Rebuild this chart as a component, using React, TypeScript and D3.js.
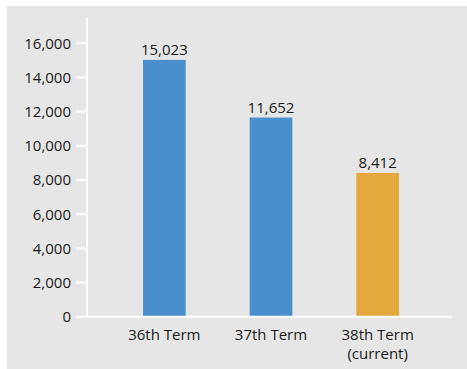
import React from "react";
import * as d3 from "d3";

const categories = ["36th Term", "37th Term", "38th Term|(current)"];
const values = [15023, 11652, 8412];
const barColors = ["#4a8fcd", "#4a8fcd", "#e3a93c"];
const yTicks = [0, 2000, 4000, 6000, 8000, 10000, 12000, 14000, 16000];

export default function App() {
  const W = 467, H = 369;
  const y = d3.scaleLinear().domain([0, 16000]).range([316.8, 43.2]);
  const x = d3.scaleBand<string>().domain(categories).range([111, 431]).paddingInner(0.6).paddingOuter(0.3);
  const fmt = d3.format(",");
  const font = "'Open Sans', sans-serif";
  return (
    <svg width={W} height={H} style={{ position: "absolute", left: 0, top: 0, display: "block" }} fontFamily={font}>
      <rect x={7} y={6} width={W - 7} height={H - 6} fill="#e6e6e6" />
      {categories.map((c, i) => (
        <g key={c}>
          <rect x={x(c)!} y={y(values[i])} width={x.bandwidth()} height={y(0) - y(values[i])} fill={barColors[i]} />
          <text x={x(c)! + x.bandwidth() / 2} y={y(values[i]) - 5} textAnchor="middle" fontSize={15} fill="#1a1a1a">{fmt(values[i])}</text>
          {c.split("|").map((line, j) => (
            <text key={j} x={x(c)! + x.bandwidth() / 2} y={340 + j * 18.5} textAnchor="middle" fontSize={15} fill="#1a1a1a">{line}</text>
          ))}
        </g>
      ))}
      <line x1={87} x2={87} y1={18} y2={y(0) + 1} stroke="#fff" strokeWidth={2} />
      <line x1={86} x2={452} y1={y(0)} y2={y(0)} stroke="#fff" strokeWidth={2} />
      {yTicks.map(t => (
        <g key={t}>
          <line x1={76} x2={87} y1={y(t)} y2={y(t)} stroke="#fff" strokeWidth={2} />
          <text x={71} y={y(t)} dy="0.36em" textAnchor="end" fontSize={15} fill="#1a1a1a">{fmt(t)}</text>
        </g>
      ))}
    </svg>
  );
}
